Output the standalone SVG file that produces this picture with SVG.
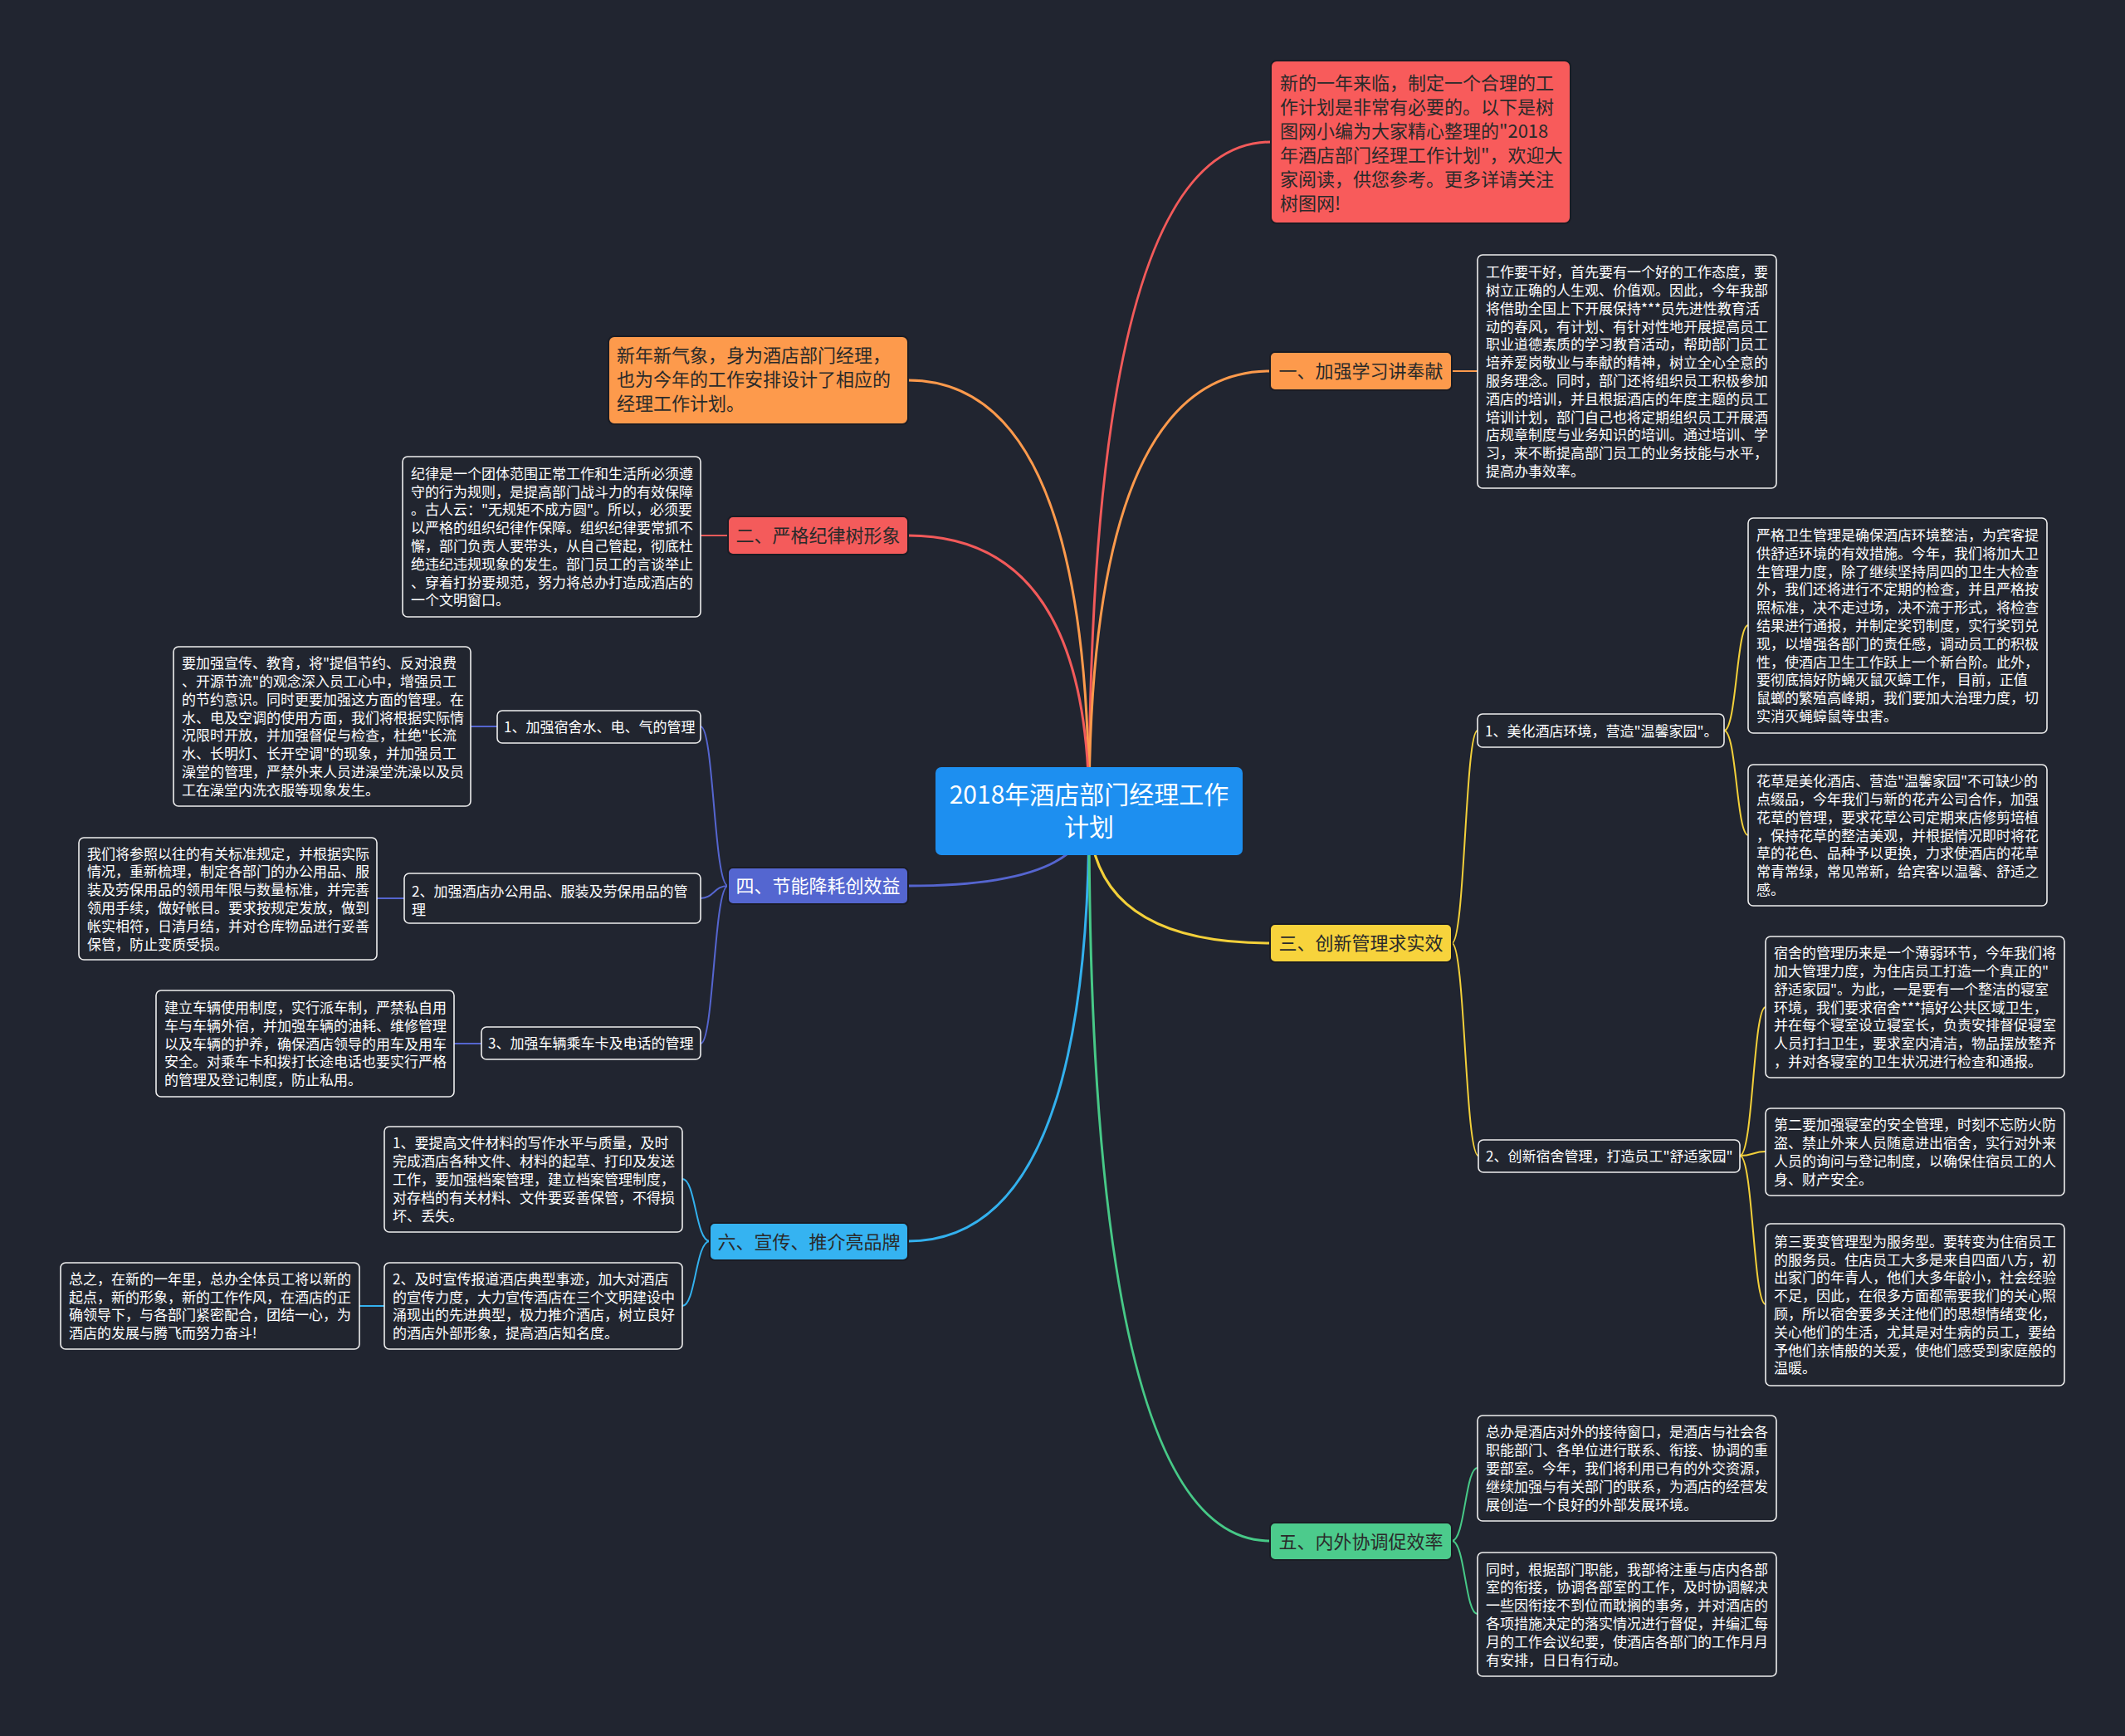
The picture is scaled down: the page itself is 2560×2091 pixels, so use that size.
<svg xmlns="http://www.w3.org/2000/svg" width="2560" height="2091" viewBox="0 0 2560 2091">
<style>
.d{fill:#21252f;stroke:#eeeeee;stroke-width:1.6}
.t{font-family:"Noto Sans CJK SC","Noto Sans",sans-serif;font-size:17px;fill:#ffffff}
.m{font-family:"Noto Sans CJK SC","Noto Sans",sans-serif;font-size:22px;fill:#2a2a2a}
.mc{text-anchor:middle}
.mb{stroke:#1a1c24;stroke-width:2}
.c{fill:none;stroke-width:3;stroke-linecap:round}
.s{fill:none;stroke-width:2;stroke-linecap:round}
.red{stroke:#f25a5a}.org{stroke:#fd9a4c}.yel{stroke:#f3d03a}.pur{stroke:#5565cf}.grn{stroke:#47c987}.blu{stroke:#33b1ee}
</style>
<rect x="0" y="0" width="2560" height="2091" fill="#212530"/>
<g id="connectors">
<path class="c red" d="M1312 977 Q1312 171 1531 171"/>
<path class="c org" d="M1312 977 Q1312 447 1530 447"/>
<path class="c org" d="M1312 977 Q1312 458 1094 458"/>
<path class="c red" d="M1312 977 Q1312 645 1094 645"/>
<path class="c pur" d="M1312 977 Q1312 1067 1094 1067"/>
<path class="c yel" d="M1312 977 Q1312 1136 1530 1136"/>
<path class="c blu" d="M1312 977 Q1312 1495 1094 1495"/>
<path class="c grn" d="M1312 977 Q1312 1856 1530 1856"/>
<path class="s org" d="M1749 447 H1780"/>
<path class="s red" d="M877 645 H844"/>
<path class="s yel" d="M1749 1136 C1765 1136 1765 880 1780 880"/>
<path class="s yel" d="M1749 1136 C1765 1136 1765 1392 1781 1392"/>
<path class="s yel" d="M2077 880 C2092 880 2092 753 2106 753"/>
<path class="s yel" d="M2077 880 C2092 880 2092 1006 2106 1006"/>
<path class="s yel" d="M2096 1392 C2112 1392 2112 1213 2127 1213"/>
<path class="s yel" d="M2096 1392 C2112 1392 2112 1387 2127 1387"/>
<path class="s yel" d="M2096 1392 C2112 1392 2112 1571 2127 1571"/>
<path class="s pur" d="M877 1067 C860 1067 860 875 844 875"/>
<path class="s pur" d="M877 1067 C860 1067 860 1082 844 1082"/>
<path class="s pur" d="M877 1067 C860 1067 860 1257 844 1257"/>
<path class="s pur" d="M599 875 H567"/>
<path class="s pur" d="M487 1082 H454"/>
<path class="s pur" d="M580 1257 H547"/>
<path class="s blu" d="M855 1495 C838 1495 838 1420 822 1420"/>
<path class="s blu" d="M855 1495 C838 1495 838 1573 822 1573"/>
<path class="s blu" d="M463 1573 H433"/>
<path class="s grn" d="M1749 1856 C1765 1856 1765 1768 1780 1768"/>
<path class="s grn" d="M1749 1856 C1765 1856 1765 1944 1780 1944"/>
</g>
<g id="root">
<rect x="1127" y="924" width="370" height="106" rx="7" fill="#1d8ff0"/>
<text x="1312" y="968" font-family="Noto Sans CJK SC,sans-serif" font-size="30" fill="#ffffff" text-anchor="middle">2018年酒店部门经理工作</text>
<text x="1312" y="1007" font-family="Noto Sans CJK SC,sans-serif" font-size="30" fill="#ffffff" text-anchor="middle">计划</text>
</g>
<g id="intro">
<rect x="1531" y="73" width="361" height="196" rx="7" fill="#f85b5b" class="mb"/>
<text class="m"><tspan x="1542" y="108.4">新的一年来临，制定一个合理的工</tspan><tspan x="1542" dy="29">作计划是非常有必要的。以下是树</tspan><tspan x="1542" dy="29">图网小编为大家精心整理的"2018</tspan><tspan x="1542" dy="29">年酒店部门经理工作计划"，欢迎大</tspan><tspan x="1542" dy="29">家阅读，供您参考。更多详请关注</tspan><tspan x="1542" dy="29">树图网!</tspan></text>
</g>
<g id="n-yi">
<rect x="1530" y="424" width="219" height="46" rx="6" fill="#fd9a4c" class="mb"/>
<text class="m mc" x="1639.5" y="455.4">一、加强学习讲奉献</text>
</g>
<g id="n-yi-text">
<rect class="d" x="1780" y="307" width="360" height="281" rx="6"/>
<text class="t"><tspan x="1790" y="334.1">工作要干好，首先要有一个好的工作态度，要</tspan><tspan x="1790" dy="21.8">树立正确的人生观、价值观。因此，今年我部</tspan><tspan x="1790" dy="21.8">将借助全国上下开展保持***员先进性教育活</tspan><tspan x="1790" dy="21.8">动的春风，有计划、有针对性地开展提高员工</tspan><tspan x="1790" dy="21.8">职业道德素质的学习教育活动，帮助部门员工</tspan><tspan x="1790" dy="21.8">培养爱岗敬业与奉献的精神，树立全心全意的</tspan><tspan x="1790" dy="21.8">服务理念。同时，部门还将组织员工积极参加</tspan><tspan x="1790" dy="21.8">酒店的培训，并且根据酒店的年度主题的员工</tspan><tspan x="1790" dy="21.8">培训计划，部门自己也将定期组织员工开展酒</tspan><tspan x="1790" dy="21.8">店规章制度与业务知识的培训。通过培训、学</tspan><tspan x="1790" dy="21.8">习，来不断提高部门员工的业务技能与水平，</tspan><tspan x="1790" dy="21.8">提高办事效率。</tspan></text>
</g>
<g id="n-xinnian">
<rect x="733" y="405" width="361" height="106" rx="7" fill="#fd9a4c" class="mb"/>
<text class="m"><tspan x="743" y="436.4">新年新气象，身为酒店部门经理，</tspan><tspan x="743" dy="29">也为今年的工作安排设计了相应的</tspan><tspan x="743" dy="29">经理工作计划。</tspan></text>
</g>
<g id="n-er">
<rect x="877" y="622" width="217" height="46" rx="6" fill="#f45b5b" class="mb"/>
<text class="m mc" x="985.5" y="653.4">二、严格纪律树形象</text>
</g>
<g id="n-er-text">
<rect class="d" x="485" y="550" width="359" height="193" rx="6"/>
<text class="t"><tspan x="495" y="576.7">纪律是一个团体范围正常工作和生活所必须遵</tspan><tspan x="495" dy="21.8">守的行为规则，是提高部门战斗力的有效保障</tspan><tspan x="495" dy="21.8">。古人云："无规矩不成方圆"。所以，必须要</tspan><tspan x="495" dy="21.8">以严格的组织纪律作保障。组织纪律要常抓不</tspan><tspan x="495" dy="21.8">懈，部门负责人要带头，从自己管起，彻底杜</tspan><tspan x="495" dy="21.8">绝违纪违规现象的发生。部门员工的言谈举止</tspan><tspan x="495" dy="21.8">、穿着打扮要规范，努力将总办打造成酒店的</tspan><tspan x="495" dy="21.8">一个文明窗口。</tspan></text>
</g>
<g id="n-san">
<rect x="1530" y="1113" width="219" height="46" rx="6" fill="#f7d33c" class="mb"/>
<text class="m mc" x="1639.5" y="1144.4">三、创新管理求实效</text>
</g>
<g id="n-san-1">
<rect class="d" x="1780" y="860" width="297" height="40" rx="6"/>
<text class="t" x="1789" y="886.5">1、美化酒店环境，营造"温馨家园"。</text>
</g>
<g id="n-san-1a">
<rect class="d" x="2106" y="624" width="360" height="259" rx="6"/>
<text class="t"><tspan x="2116" y="651">严格卫生管理是确保酒店环境整洁，为宾客提</tspan><tspan x="2116" dy="21.8">供舒适环境的有效措施。今年，我们将加大卫</tspan><tspan x="2116" dy="21.8">生管理力度，除了继续坚持周四的卫生大检查</tspan><tspan x="2116" dy="21.8">外，我们还将进行不定期的检查，并且严格按</tspan><tspan x="2116" dy="21.8">照标准，决不走过场，决不流于形式，将检查</tspan><tspan x="2116" dy="21.8">结果进行通报，并制定奖罚制度，实行奖罚兑</tspan><tspan x="2116" dy="21.8">现，以增强各部门的责任感，调动员工的积极</tspan><tspan x="2116" dy="21.8">性，使酒店卫生工作跃上一个新台阶。此外，</tspan><tspan x="2116" dy="21.8">要彻底搞好防蝇灭鼠灭蟑工作， 目前，正值</tspan><tspan x="2116" dy="21.8">鼠螂的繁殖高峰期，我们要加大治理力度，切</tspan><tspan x="2116" dy="21.8">实消灭蝇蟑鼠等虫害。</tspan></text>
</g>
<g id="n-san-1b">
<rect class="d" x="2106" y="921" width="360" height="170" rx="6"/>
<text class="t"><tspan x="2116" y="947.1">花草是美化酒店、营造"温馨家园"不可缺少的</tspan><tspan x="2116" dy="21.8">点缀品，今年我们与新的花卉公司合作，加强</tspan><tspan x="2116" dy="21.8">花草的管理，要求花草公司定期来店修剪培植</tspan><tspan x="2116" dy="21.8">，保持花草的整洁美观，并根据情况即时将花</tspan><tspan x="2116" dy="21.8">草的花色、品种予以更换，力求使酒店的花草</tspan><tspan x="2116" dy="21.8">常青常绿，常见常新，给宾客以温馨、舒适之</tspan><tspan x="2116" dy="21.8">感。</tspan></text>
</g>
<g id="n-san-2">
<rect class="d" x="1781" y="1373" width="315" height="39" rx="6"/>
<text class="t" x="1790" y="1399">2、创新宿舍管理，打造员工"舒适家园"</text>
</g>
<g id="n-san-2a">
<rect class="d" x="2127" y="1128" width="360" height="170" rx="6"/>
<text class="t"><tspan x="2137" y="1154.1">宿舍的管理历来是一个薄弱环节，今年我们将</tspan><tspan x="2137" dy="21.8">加大管理力度，为住店员工打造一个真正的"</tspan><tspan x="2137" dy="21.8">舒适家园"。为此，一是要有一个整洁的寝室</tspan><tspan x="2137" dy="21.8">环境，我们要求宿舍***搞好公共区域卫生，</tspan><tspan x="2137" dy="21.8">并在每个寝室设立寝室长，负责安排督促寝室</tspan><tspan x="2137" dy="21.8">人员打扫卫生，要求室内清洁，物品摆放整齐</tspan><tspan x="2137" dy="21.8">，并对各寝室的卫生状况进行检查和通报。</tspan></text>
</g>
<g id="n-san-2b">
<rect class="d" x="2127" y="1335" width="360" height="105" rx="6"/>
<text class="t"><tspan x="2137" y="1361.3">第二要加强寝室的安全管理，时刻不忘防火防</tspan><tspan x="2137" dy="21.8">盗、禁止外来人员随意进出宿舍，实行对外来</tspan><tspan x="2137" dy="21.8">人员的询问与登记制度，以确保住宿员工的人</tspan><tspan x="2137" dy="21.8">身、财产安全。</tspan></text>
</g>
<g id="n-san-2c">
<rect class="d" x="2127" y="1474" width="360" height="195" rx="6"/>
<text class="t"><tspan x="2137" y="1501.7">第三要变管理型为服务型。要转变为住宿员工</tspan><tspan x="2137" dy="21.8">的服务员。住店员工大多是来自四面八方，初</tspan><tspan x="2137" dy="21.8">出家门的年青人，他们大多年龄小，社会经验</tspan><tspan x="2137" dy="21.8">不足，因此，在很多方面都需要我们的关心照</tspan><tspan x="2137" dy="21.8">顾，所以宿舍要多关注他们的思想情绪变化，</tspan><tspan x="2137" dy="21.8">关心他们的生活，尤其是对生病的员工，要给</tspan><tspan x="2137" dy="21.8">予他们亲情般的关爱，使他们感受到家庭般的</tspan><tspan x="2137" dy="21.8">温暖。</tspan></text>
</g>
<g id="n-si">
<rect x="877" y="1045" width="217" height="44" rx="6" fill="#5466d0" class="mb"/>
<text class="m mc" x="985.5" y="1075.4" fill="#ffffff" style="fill:#ffffff">四、节能降耗创效益</text>
</g>
<g id="n-si-1">
<rect class="d" x="599" y="856" width="245" height="39" rx="6"/>
<text class="t" x="607" y="882">1、加强宿舍水、电、气的管理</text>
</g>
<g id="n-si-1a">
<rect class="d" x="209" y="779" width="358" height="192" rx="6"/>
<text class="t"><tspan x="219" y="805.2">要加强宣传、教育，将"提倡节约、反对浪费</tspan><tspan x="219" dy="21.8">、开源节流"的观念深入员工心中，增强员工</tspan><tspan x="219" dy="21.8">的节约意识。同时更要加强这方面的管理。在</tspan><tspan x="219" dy="21.8">水、电及空调的使用方面，我们将根据实际情</tspan><tspan x="219" dy="21.8">况限时开放，并加强督促与检查，杜绝"长流</tspan><tspan x="219" dy="21.8">水、长明灯、长开空调"的现象，并加强员工</tspan><tspan x="219" dy="21.8">澡堂的管理，严禁外来人员进澡堂洗澡以及员</tspan><tspan x="219" dy="21.8">工在澡堂内洗衣服等现象发生。</tspan></text>
</g>
<g id="n-si-2">
<rect class="d" x="487" y="1052" width="357" height="60" rx="6"/>
<text class="t"><tspan x="496" y="1079.5">2、加强酒店办公用品、服装及劳保用品的管</tspan><tspan x="496" dy="22">理</tspan></text>
</g>
<g id="n-si-2a">
<rect class="d" x="95" y="1009" width="359" height="147" rx="6"/>
<text class="t"><tspan x="105" y="1034.5">我们将参照以往的有关标准规定，并根据实际</tspan><tspan x="105" dy="21.8">情况，重新梳理，制定各部门的办公用品、服</tspan><tspan x="105" dy="21.8">装及劳保用品的领用年限与数量标准，并完善</tspan><tspan x="105" dy="21.8">领用手续，做好帐目。要求按规定发放，做到</tspan><tspan x="105" dy="21.8">帐实相符，日清月结，并对仓库物品进行妥善</tspan><tspan x="105" dy="21.8">保管，防止变质受损。</tspan></text>
</g>
<g id="n-si-3">
<rect class="d" x="580" y="1237" width="264" height="39" rx="6"/>
<text class="t" x="588" y="1263">3、加强车辆乘车卡及电话的管理</text>
</g>
<g id="n-si-3a">
<rect class="d" x="188" y="1193" width="359" height="128" rx="6"/>
<text class="t"><tspan x="198" y="1219.9">建立车辆使用制度，实行派车制，严禁私自用</tspan><tspan x="198" dy="21.8">车与车辆外宿，并加强车辆的油耗、维修管理</tspan><tspan x="198" dy="21.8">以及车辆的护养，确保酒店领导的用车及用车</tspan><tspan x="198" dy="21.8">安全。对乘车卡和拨打长途电话也要实行严格</tspan><tspan x="198" dy="21.8">的管理及登记制度，防止私用。</tspan></text>
</g>
<g id="n-liu">
<rect x="855" y="1473" width="239" height="45" rx="6" fill="#35b3f1" class="mb"/>
<text class="m mc" x="974.5" y="1503.9">六、宣传、推介亮品牌</text>
</g>
<g id="n-liu-1">
<rect class="d" x="463" y="1357" width="359" height="127" rx="6"/>
<text class="t"><tspan x="473" y="1383.4">1、要提高文件材料的写作水平与质量，及时</tspan><tspan x="473" dy="21.8">完成酒店各种文件、材料的起草、打印及发送</tspan><tspan x="473" dy="21.8">工作，要加强档案管理，建立档案管理制度，</tspan><tspan x="473" dy="21.8">对存档的有关材料、文件要妥善保管，不得损</tspan><tspan x="473" dy="21.8">坏、丢失。</tspan></text>
</g>
<g id="n-liu-2">
<rect class="d" x="463" y="1521" width="359" height="104" rx="6"/>
<text class="t"><tspan x="473" y="1546.8">2、及时宣传报道酒店典型事迹，加大对酒店</tspan><tspan x="473" dy="21.8">的宣传力度，大力宣传酒店在三个文明建设中</tspan><tspan x="473" dy="21.8">涌现出的先进典型，极力推介酒店，树立良好</tspan><tspan x="473" dy="21.8">的酒店外部形象，提高酒店知名度。</tspan></text>
</g>
<g id="n-liu-2a">
<rect class="d" x="73" y="1521" width="360" height="104" rx="6"/>
<text class="t"><tspan x="83" y="1546.8">总之，在新的一年里，总办全体员工将以新的</tspan><tspan x="83" dy="21.8">起点，新的形象，新的工作作风，在酒店的正</tspan><tspan x="83" dy="21.8">确领导下，与各部门紧密配合，团结一心，为</tspan><tspan x="83" dy="21.8">酒店的发展与腾飞而努力奋斗!</tspan></text>
</g>
<g id="n-wu">
<rect x="1530" y="1834" width="219" height="45" rx="6" fill="#4ccb8c" class="mb"/>
<text class="m mc" x="1639.5" y="1864.9">五、内外协调促效率</text>
</g>
<g id="n-wu-1">
<rect class="d" x="1780" y="1705" width="360" height="127" rx="6"/>
<text class="t"><tspan x="1790" y="1731.4">总办是酒店对外的接待窗口，是酒店与社会各</tspan><tspan x="1790" dy="21.8">职能部门、各单位进行联系、衔接、协调的重</tspan><tspan x="1790" dy="21.8">要部室。今年，我们将利用已有的外交资源，</tspan><tspan x="1790" dy="21.8">继续加强与有关部门的联系，为酒店的经营发</tspan><tspan x="1790" dy="21.8">展创造一个良好的外部发展环境。</tspan></text>
</g>
<g id="n-wu-2">
<rect class="d" x="1780" y="1870" width="360" height="149" rx="6"/>
<text class="t"><tspan x="1790" y="1896.5">同时，根据部门职能，我部将注重与店内各部</tspan><tspan x="1790" dy="21.8">室的衔接，协调各部室的工作，及时协调解决</tspan><tspan x="1790" dy="21.8">一些因衔接不到位而耽搁的事务，并对酒店的</tspan><tspan x="1790" dy="21.8">各项措施决定的落实情况进行督促，并编汇每</tspan><tspan x="1790" dy="21.8">月的工作会议纪要，使酒店各部门的工作月月</tspan><tspan x="1790" dy="21.8">有安排，日日有行动。</tspan></text>
</g>
</svg>
